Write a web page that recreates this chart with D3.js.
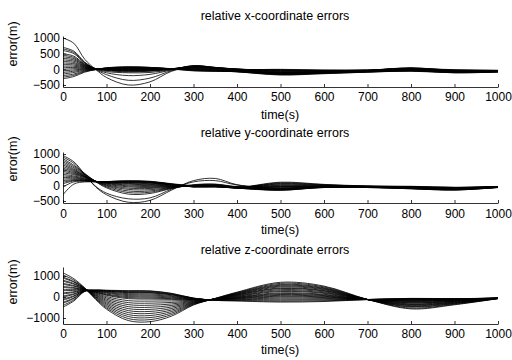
<!DOCTYPE html>
<html>
<head>
<meta charset="utf-8">
<script src="https://cdn.jsdelivr.net/npm/d3@7"></script>
<style>
  body { margin: 0; background: #fff; }
  svg { display: block; }
  text { font-family: "Liberation Sans", Arial, sans-serif; fill: #000; }
</style>
</head>
<body>
<svg width="512" height="360"></svg>
<script>
// sample times (s)
var times = [0, 25, 50, 75, 100, 150, 200, 250, 300, 350, 400, 500, 600, 700, 800, 900, 1000];

var timeTicks = [0, 100, 200, 300, 400, 500, 600, 700, 800, 900, 1000];
var errTicksXY = [-500, 0, 500, 1000];
var errTicksZ = [-1000, 0, 1000];

// relative x-coordinate errors, one row per trace
var xErrors = [
  [1000, 830, 320, 0, -260, -500, -400, -60, 80, 40, -20, -150, -100, -40, 30, -80, -60],
  [700, 580, 230, 0, -170, -350, -280, -40, 100, 50, -20, -140, -110, -50, 20, -90, -60],
  [650, 540, 210, 10, -110, -200, -160, -20, 110, 60, -10, -120, -90, -60, 10, -80, -60],
  [600, 500, 200, 15, -70, -110, -100, -10, 120, 60, 0, -100, -80, -50, 20, -70, -55],
  [500, 420, 170, 20, -40, -80, -60, 0, 110, 60, 10, -80, -70, -50, 30, -60, -50],
  [450, 380, 155, 20, -30, -60, -50, 10, 100, 50, 10, -60, -60, -40, 40, -50, -45],
  [400, 340, 140, 20, -20, -50, -40, 10, 90, 50, 10, -40, -50, -30, 50, -40, -40],
  [350, 300, 125, 20, -10, -40, -30, 20, 80, 40, 0, -20, -40, -30, 40, -30, -40],
  [300, 260, 110, 20, 0, -30, -20, 20, 70, 30, 0, -10, -30, -20, 30, -20, -35],
  [250, 220, 95, 20, 0, -20, -10, 20, 60, 30, -10, 0, -20, -20, 20, -10, -30],
  [200, 180, 80, 20, 5, -10, -5, 20, 50, 20, -20, -30, -40, -40, 0, -30, -40],
  [150, 140, 65, 15, 10, 0, 0, 20, 40, 10, -30, -60, -60, -50, -10, -50, -50],
  [100, 100, 50, 10, 10, 10, 10, 20, 30, 0, -40, -90, -80, -60, -20, -70, -60],
  [50, 60, 35, 10, 15, 20, 15, 20, 20, -10, -50, -120, -100, -70, -30, -90, -70],
  [0, 20, 20, 5, 20, 30, 20, 20, 10, -20, -60, -150, -120, -80, -40, -100, -80],
  [-50, -20, 5, 5, 25, 40, 30, 20, 0, -30, -70, -170, -130, -90, -50, -110, -85],
  [-100, -60, -10, 0, 30, 50, 40, 20, -10, -40, -80, -180, -140, -90, -60, -110, -90],
  [-150, -100, -30, 0, 35, 60, 50, 20, -20, -50, -80, -160, -120, -80, -50, -100, -80],
  [-200, -150, -50, -5, 40, 70, 60, 20, -30, -50, -70, -140, -110, -70, -40, -90, -70],
  [-250, -190, -70, -10, 45, 75, 60, 15, -40, -60, -70, -120, -100, -60, -30, -80, -60],
  [-300, -230, -90, -10, 50, 80, 60, 10, -50, -60, -60, -100, -90, -50, -20, -70, -50]
];

// relative y-coordinate errors
var yErrors = [
  [950, 750, 350, -50, -300, -540, -480, -150, 150, 220, 20, -100, -50, -30, -80, -110, -50],
  [900, 700, 330, -30, -250, -430, -400, -120, 110, 150, 10, -90, -40, -30, -80, -100, -50],
  [850, 640, 380, 120, -80, -280, -260, -100, 20, 40, -40, -60, -40, -40, -70, -110, -50],
  [800, 600, 360, 120, -50, -230, -220, -90, 10, 30, -50, -40, -30, -40, -70, -100, -45],
  [750, 560, 340, 130, -20, -180, -180, -80, 0, 20, -50, -20, -30, -40, -60, -90, -45],
  [700, 520, 320, 130, 0, -130, -140, -70, 0, 10, -60, 0, -20, -40, -60, -90, -45],
  [650, 490, 300, 130, 20, -90, -100, -60, -10, 0, -60, 20, -10, -40, -50, -80, -40],
  [600, 460, 290, 130, 40, -50, -70, -50, -10, 0, -60, 40, 0, -30, -50, -80, -40],
  [550, 430, 280, 130, 60, -20, -40, -40, -20, -10, -70, 60, 10, -30, -40, -70, -40],
  [500, 400, 270, 130, 70, 10, -10, -30, -20, -10, -70, 80, 20, -30, -40, -70, -40],
  [450, 370, 260, 130, 80, 40, 10, -20, -30, -20, -70, 100, 30, -20, -30, -60, -35],
  [400, 340, 240, 130, 90, 60, 30, -10, -30, -20, -80, -40, -40, -50, -90, -130, -60],
  [350, 300, 220, 120, 90, 80, 50, 0, -40, -30, -80, -80, -50, -60, -100, -140, -65],
  [300, 270, 200, 120, 100, 90, 70, 10, -40, -30, -80, -110, -60, -60, -100, -140, -65],
  [250, 240, 190, 120, 100, 100, 80, 20, -50, -40, -90, -130, -70, -70, -110, -150, -70],
  [200, 210, 170, 120, 110, 110, 90, 20, -50, -40, -90, -150, -70, -70, -110, -150, -70],
  [150, 180, 160, 120, 110, 120, 100, 30, -50, -50, -90, -160, -60, -60, -100, -130, -60],
  [100, 160, 150, 120, 120, 130, 110, 30, -40, -50, -80, -150, -60, -60, -90, -120, -60],
  [50, 140, 140, 120, 120, 130, 120, 40, -30, -40, -80, -130, -50, -50, -80, -110, -55],
  [-50, 110, 130, 110, 120, 140, 120, 40, -20, -40, -70, -120, -50, -50, -80, -100, -55],
  [-300, 40, 110, 110, 120, 140, 130, 50, -10, -30, -70, -110, -50, -50, -70, -90, -50]
];

// relative z-coordinate errors
var zErrors = [
  [1150, 870, 430, -115, -580, -1122, -1176, -906, -381, -65, 232, 700, 520, -115, -566, -370, -77],
  [1050, 805, 420, -85, -520, -1028, -1078, -834, -359, -70, 210, 650, 481, -118, -528, -348, -75],
  [950, 740, 410, -55, -460, -932, -980, -762, -337, -75, 187, 600, 442, -120, -480, -320, -72],
  [900, 708, 405, -25, -400, -838, -882, -690, -315, -79, 170, 560, 411, -122, -452, -303, -70],
  [800, 643, 395, 5, -340, -742, -784, -618, -293, -83, 151, 520, 380, -118, -414, -282, -68],
  [750, 610, 390, 35, -280, -648, -686, -546, -271, -87, 133, 480, 348, -121, -385, -265, -68],
  [650, 545, 380, 65, -220, -552, -588, -474, -249, -92, 111, 430, 309, -119, -357, -248, -66],
  [600, 513, 375, 95, -160, -458, -490, -402, -227, -95, 97, 400, 286, -123, -328, -232, -65],
  [500, 448, 365, 125, -100, -362, -392, -330, -205, -100, 75, 350, 247, -120, -290, -210, -63],
  [450, 415, 360, 155, -40, -268, -294, -258, -183, -105, 52, 300, 208, -117, -272, -199, -62],
  [350, 350, 350, 185, 20, -172, -196, -186, -161, -109, 34, 260, 176, -121, -243, -182, -60],
  [300, 317, 345, 215, 80, -78, -98, -114, -139, -115, 8, 200, 130, -119, -215, -166, -58],
  [200, 252, 335, 230, 110, -30, -49, -78, -128, -119, -10, 160, 98, -122, -196, -155, -57],
  [150, 220, 330, 245, 140, 18, 0, -42, -117, -123, -28, 120, 67, -118, -177, -144, -56],
  [50, 155, 320, 260, 185, 65, 49, -6, -106, -127, -47, 80, 36, -120, -158, -133, -55],
  [0, 122, 315, 275, 213, 113, 98, 30, -95, -131, -65, 40, 5, -121, -139, -122, -54],
  [-100, 57, 305, 290, 240, 160, 147, 66, -84, -135, -83, 0, -26, -119, -120, -111, -53],
  [-150, 25, 300, 305, 268, 208, 196, 102, -73, -140, -105, -50, -65, -120, -100, -100, -52],
  [-250, -40, 290, 311, 278, 226, 216, 116, -69, -145, -128, -100, -104, -122, -91, -95, -51],
  [-300, -73, 285, 320, 295, 255, 245, 138, -62, -150, -150, -150, -143, -118, -82, -89, -50],
  [-400, -138, 275, 329, 312, 283, 274, 160, -55, -155, -172, -200, -182, -120, -72, -83, -49],
  [-480, -190, 267, 335, 323, 303, 294, 174, -51, -159, -190, -240, -214, -121, -65, -78, -48]
];

var panels = [
  {title: "relative x-coordinate errors", rows: xErrors, ylim: [-564, 1064], yticks: errTicksXY,
   top: 36, bottom: 87, titleY: 20, ylabelY: 44, tickY: 101, xlabelY: 119},
  {title: "relative y-coordinate errors", rows: yErrors, ylim: [-564, 1064], yticks: errTicksXY,
   top: 152, bottom: 203, titleY: 137, ylabelY: 159, tickY: 218, xlabelY: 234},
  {title: "relative z-coordinate errors", rows: zErrors, ylim: [-1286, 1430], yticks: errTicksZ,
   top: 267, bottom: 324, titleY: 254, ylabelY: 282, tickY: 338, xlabelY: 354}
];

var svg = d3.select("svg");
var left = 63, right = 498;
var fmt = d3.format("d");

var x = d3.scaleLinear().domain([0, 1000]).range([left, right]);

panels.forEach(function(p, k) {
  var y = d3.scaleLinear().domain(p.ylim).range([p.bottom, p.top]);
  var g = svg.append("g");

  g.append("clipPath").attr("id", "clip" + k)
    .append("rect")
    .attr("x", left).attr("y", p.top)
    .attr("width", right - left).attr("height", p.bottom - p.top);

  var line = d3.line()
    .x(function(d, i) { return x(times[i]); })
    .y(function(d) { return y(d); })
    .curve(d3.curveCatmullRom.alpha(0.5));

  g.append("g").attr("clip-path", "url(#clip" + k + ")")
    .selectAll("path")
    .data(p.rows)
    .enter()
    .append("path")
    .attr("d", line)
    .attr("fill", "none")
    .attr("stroke", "#000")
    .attr("stroke-width", 0.8);

  var xAxis = g.append("g")
    .attr("transform", "translate(0," + p.bottom + ")")
    .call(d3.axisBottom(x).tickValues(timeTicks).tickFormat(fmt)
      .tickSizeInner(-3).tickSizeOuter(0).tickPadding(p.tickY - p.bottom - 8.5));

  var yAxis = g.append("g")
    .attr("transform", "translate(" + left + ",0)")
    .call(d3.axisLeft(y).tickValues(p.yticks).tickFormat(fmt)
      .tickSizeInner(-3).tickSizeOuter(0).tickPadding(3));

  [xAxis, yAxis].forEach(function(a) {
    a.selectAll("text").style("font-size", "12px").style("font-family", '"Liberation Sans", Arial, sans-serif').attr("fill", "#000");
    a.selectAll("line, path").attr("stroke", "#000").attr("stroke-width", 0.8);
  });

  g.append("text")
    .attr("x", 275).attr("y", p.titleY)
    .attr("text-anchor", "middle")
    .style("font-size", "12.5px")
    .text(p.title);

  g.append("text")
    .attr("x", 280).attr("y", p.xlabelY)
    .attr("text-anchor", "middle")
    .style("font-size", "12.5px")
    .text("time(s)");

  g.append("text")
    .attr("transform", "translate(17," + p.ylabelY + ") rotate(-90)")
    .attr("text-anchor", "middle")
    .style("font-size", "12.5px")
    .text("error(m)");
});
</script>
</body>
</html>
